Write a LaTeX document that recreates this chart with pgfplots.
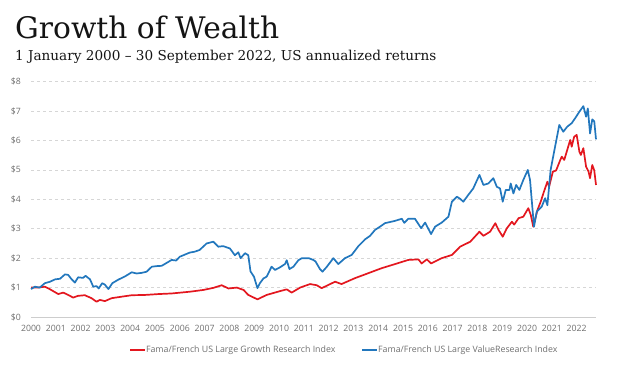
\documentclass[border=0pt]{standalone}
\usepackage{pgfplots}
\pgfplotsset{compat=1.18}
\usepackage{fontspec}
\setmainfont{DejaVu Serif}
\newfontfamily\uifont{Open Sans}
\definecolor{gwred}{HTML}{E3171F}
\definecolor{gwblue}{HTML}{2277BD}
\definecolor{ticktext}{HTML}{6E6E6E}
\definecolor{gridc}{HTML}{D6D6D6}
\begin{document}
\begin{tikzpicture}
\path[use as bounding box] (0pt,0pt) rectangle (618pt,366pt);
\node[anchor=base west, inner sep=0pt, text=black!92] at (15pt,327pt) {\fontsize{29.7}{32}\selectfont Growth of Wealth};
\node[anchor=base west, inner sep=0pt, text=black!92] at (15pt,305pt) {\fontsize{13.6}{15}\selectfont 1 January 2000 -- 30 September 2022, US annualized returns};
\begin{axis}[
  at={(31pt,49pt)}, anchor=south west,
  scale only axis, width=565pt, height=235.3pt,
  xmin=2000, xmax=2022.78, ymin=0, ymax=8,
  axis line style={draw=none},
  xtick={2000,2001,...,2022},
  xticklabels={2000,2001,2002,2003,2004,2005,2006,2007,2008,2009,2010,2011,2012,2013,2014,2015,2016,2017,2018,2019,2020,2021,2022},
  ytick={0,1,...,8},
  yticklabels={\$0,\$1,\$2,\$3,\$4,\$5,\$6,\$7,\$8},
  major tick length=0pt,
  tick label style={font=\uifont\fontsize{8.7}{10}\selectfont, text=ticktext, inner sep=0pt},
  /pgf/number format/assume math mode=true,
  yticklabel style={anchor=east, xshift=-10pt},
  xticklabel style={anchor=north, yshift=-8pt},
  ymajorgrids,
  grid style={gridc, dashed, line width=0.6pt},
  clip=false,
  legend columns=2,
  legend style={at={(0.1735,-0.14)}, anchor=west, draw=none, fill=none, inner sep=0pt,
    font=\uifont\fontsize{8.8}{10}\selectfont, text=ticktext,
    /tikz/every even column/.append style={column sep=26pt},
    nodes={inner sep=0pt}},
  legend cell align=left,
  legend image code/.code={\draw[#1, line width=1.8pt] (0pt,0pt) -- (15pt,0pt);},
]
\draw[gridc!80!black!60, line width=0.8pt] (axis cs:2000,0) -- (axis cs:2022.78,0);
\addplot[gwred, line width=1.7pt, line join=round] table {
x y
2000.00 1.00
2000.28 1.00
2000.56 1.03
2000.77 0.94
2001.10 0.78
2001.30 0.83
2001.50 0.75
2001.70 0.66
2001.90 0.72
2002.17 0.74
2002.44 0.64
2002.64 0.52
2002.78 0.58
2002.98 0.54
2003.25 0.64
2003.65 0.69
2004.06 0.74
2004.60 0.75
2005.14 0.78
2005.67 0.80
2006.41 0.86
2006.95 0.92
2007.35 0.99
2007.69 1.08
2007.96 0.97
2008.30 1.00
2008.57 0.92
2008.76 0.75
2009.13 0.60
2009.50 0.75
2010.04 0.88
2010.31 0.94
2010.51 0.83
2010.85 1.00
2011.25 1.12
2011.52 1.08
2011.72 0.98
2012.26 1.20
2012.52 1.12
2013.06 1.32
2013.60 1.49
2014.14 1.66
2014.68 1.80
2015.21 1.94
2015.62 1.96
2015.75 1.82
2015.96 1.96
2016.13 1.82
2016.56 2.00
2016.97 2.11
2017.30 2.39
2017.71 2.56
2018.08 2.90
2018.24 2.76
2018.51 2.90
2018.72 3.19
2018.85 2.96
2019.02 2.73
2019.18 3.01
2019.39 3.24
2019.48 3.14
2019.66 3.36
2019.85 3.41
2020.05 3.70
2020.15 3.47
2020.25 3.07
2020.42 3.64
2020.55 3.92
2020.68 4.26
2020.82 4.60
2020.89 4.43
2021.04 4.94
2021.17 4.98
2021.34 5.34
2021.40 5.45
2021.50 5.34
2021.62 5.68
2021.74 6.02
2021.80 5.79
2021.90 6.13
2022.00 6.19
2022.11 5.62
2022.17 5.51
2022.27 5.74
2022.38 5.11
2022.48 4.94
2022.54 4.72
2022.63 5.17
2022.71 4.98
2022.78 4.49
};
\addlegendentry{Fama/French US Large Growth Research Index}
\addplot[gwblue, line width=1.7pt, line join=round] table {
x y
2000.00 0.95
2000.16 1.03
2000.35 1.00
2000.56 1.15
2000.77 1.20
2000.97 1.28
2001.17 1.30
2001.37 1.45
2001.50 1.43
2001.64 1.28
2001.77 1.17
2001.90 1.35
2002.10 1.33
2002.20 1.40
2002.38 1.28
2002.51 1.03
2002.64 1.05
2002.73 0.97
2002.87 1.15
2002.98 1.10
2003.12 0.95
2003.28 1.15
2003.52 1.27
2003.79 1.38
2004.06 1.52
2004.26 1.48
2004.46 1.50
2004.66 1.54
2004.87 1.71
2005.07 1.73
2005.27 1.74
2005.47 1.84
2005.67 1.94
2005.85 1.92
2006.00 2.05
2006.20 2.12
2006.40 2.19
2006.60 2.22
2006.80 2.28
2007.08 2.50
2007.35 2.56
2007.55 2.39
2007.75 2.41
2008.02 2.33
2008.22 2.10
2008.36 2.20
2008.45 2.00
2008.63 2.17
2008.76 2.10
2008.85 1.55
2008.99 1.37
2009.13 0.98
2009.23 1.15
2009.37 1.31
2009.50 1.37
2009.70 1.71
2009.84 1.60
2010.04 1.69
2010.24 1.80
2010.31 1.93
2010.42 1.63
2010.58 1.71
2010.78 1.93
2010.92 2.00
2011.20 2.00
2011.38 1.94
2011.47 1.89
2011.65 1.63
2011.75 1.54
2011.92 1.70
2012.19 2.00
2012.39 1.80
2012.66 2.00
2012.93 2.11
2013.20 2.41
2013.47 2.64
2013.67 2.76
2013.87 2.96
2014.07 3.07
2014.27 3.19
2014.48 3.23
2014.68 3.27
2014.95 3.34
2015.05 3.20
2015.21 3.34
2015.48 3.34
2015.73 3.02
2015.89 3.21
2016.13 2.82
2016.29 3.07
2016.56 3.21
2016.83 3.41
2016.97 3.92
2017.17 4.09
2017.30 4.02
2017.43 3.92
2017.63 4.15
2017.83 4.37
2018.08 4.83
2018.24 4.49
2018.44 4.54
2018.64 4.72
2018.78 4.43
2018.91 4.37
2019.02 3.92
2019.14 4.32
2019.29 4.32
2019.34 4.54
2019.45 4.20
2019.56 4.49
2019.69 4.32
2019.85 4.66
2020.03 5.00
2020.12 4.66
2020.28 3.07
2020.39 3.58
2020.59 3.75
2020.73 4.04
2020.82 3.80
2020.95 5.00
2021.13 5.79
2021.30 6.53
2021.46 6.30
2021.62 6.47
2021.80 6.59
2021.94 6.76
2022.11 6.98
2022.27 7.17
2022.38 6.81
2022.45 7.09
2022.54 6.24
2022.63 6.72
2022.71 6.65
2022.78 6.04
};
\addlegendentry{Fama/French US Large ValueResearch Index}
\end{axis}
\end{tikzpicture}
\end{document}
